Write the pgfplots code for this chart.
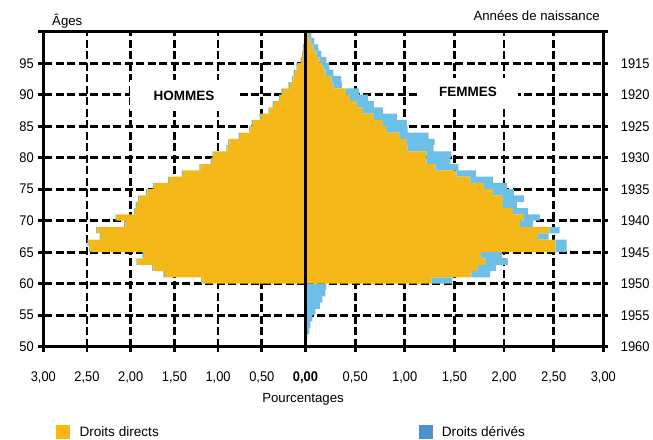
\documentclass[border=0pt]{standalone}
\usepackage{fontspec}
\setmainfont{Liberation Sans}
\newfontfamily\narrow{Liberation Sans}[FakeStretch=0.92]
\usepackage{pgfplots}
\usepackage{pgfplotstable}
\pgfplotsset{compat=1.18}

\definecolor{direct}{HTML}{F5B819}
\definecolor{derive}{HTML}{6CBFE6}
\definecolor{legdirect}{HTML}{FDB515}
\definecolor{legderive}{HTML}{4F91CE}

% age (lower bound of the one-year band), droits directs, droits derives
\pgfplotstableread{
age direct derive
50 0     0
51 0     0
52 0     0
53 0     0
54 0     0
55 0     0
56 0     0
57 0     0
58 0     0
59 0     0
60 1.18  0.015
61 1.61  0.015
62 1.74  0.015
63 1.92  0.015
64 1.85  0.015
65 2.46  0.015
66 2.48  0.015
67 2.34  0.015
68 2.38  0.015
69 2.06  0.015
70 2.16  0.015
71 1.95  0.015
72 1.93  0.015
73 1.90  0.015
74 1.81  0.015
75 1.73  0.015
76 1.56  0.015
77 1.40  0.015
78 1.20  0.015
79 1.07  0.015
80 1.05  0.015
81 0.89  0.015
82 0.87  0.015
83 0.75  0.015
84 0.63  0.015
85 0.60  0.015
86 0.51  0.015
87 0.41  0.015
88 0.36  0.015
89 0.29  0.015
90 0.26  0.015
91 0.18  0.015
92 0.14  0.015
93 0.12  0.015
94 0.09  0.015
95 0.04  0.015
96 0.03  0.01
97 0.02  0.01
98 0.015 0.005
99 0.01  0.005
}\hommes

\pgfplotstableread{
age direct derive
50 0     0.01
51 0     0.02
52 0     0.04
53 0     0.05
54 0     0.07
55 0     0.10
56 0     0.145
57 0     0.17
58 0     0.20
59 0     0.21
60 1.27  0.21
61 1.67  0.19
62 1.74  0.18
63 1.82  0.22
64 1.77  0.21
65 2.52  0.11
66 2.52  0.11
67 2.34  0.11
68 2.46  0.10
69 2.16  0.13
70 2.20  0.16
71 2.09  0.15
72 1.99  0.14
73 1.99  0.21
74 1.89  0.21
75 1.80  0.23
76 1.66  0.23
77 1.52  0.20
78 1.31  0.23
79 1.22  0.24
80 1.22  0.25
81 1.03  0.26
82 1.02  0.28
83 0.95  0.29
84 0.82  0.21
85 0.78  0.24
86 0.69  0.23
87 0.58  0.20
88 0.52  0.17
89 0.45  0.18
90 0.41  0.13
91 0.28  0.09
92 0.26  0.10
93 0.20  0.08
94 0.18  0.06
95 0.14  0.07
96 0.11  0.05
97 0.08  0.05
98 0.05  0.04
99 0.03  0.03
}\femmes

\pgfplotsset{pyr/.style={
  scale only axis, height=315pt,
  xmin=0, xmax=3, ymin=50, ymax=100,
  xbar stacked, bar width=1,
  axis line style={draw=none},
  tick align=outside, major tick length=5pt,
  tick style={black, line width=2.8pt},
  xtick pos=bottom,
  xtick={0.5,1,1.5,2,2.5},
  extra x ticks={0,3},
  extra x tick style={grid=none},
  ytick={50,55,...,100},
  grid=major,
  major grid style={black, line width=2.8pt, dash pattern=on 8pt off 3.5pt},
  ticklabel style={font=\narrow\fontsize{14}{16}\selectfont},
  xticklabel style={yshift=-16pt},
}}

\begin{document}
\begin{tikzpicture}[x=1pt, y=1pt]
\useasboundingbox (0,0) rectangle (653,439);

\begin{axis}[pyr, name=L, width=262.2pt, x dir=reverse,
  at={(43.3pt,92.3pt)}, anchor=south west,
  ytick pos=left,
  xticklabels={{0,50},{1,00},{1,50},{2,00},{2,50}},
  extra x tick labels={{\textbf{0,00}},{3,00}},
  yticklabels={50,55,60,65,70,75,80,85,90,95,{}},
  yticklabel style={xshift=-1pt},
]
\addplot[fill=direct, draw=none] table[x=direct, y expr=\thisrow{age}+0.5] {\hommes};
\addplot[fill=derive, draw=none] table[x=derive, y expr=\thisrow{age}+0.5] {\hommes};
\end{axis}

\begin{axis}[pyr, name=R, width=297.8pt,
  at={(305.5pt,92.3pt)}, anchor=south west,
  ytick pos=right,
  xticklabels={{0,50},{1,00},{1,50},{2,00},{2,50}},
  extra x tick labels={{},{3,00}},
  yticklabels={1960,1955,1950,1945,1940,1935,1930,1925,1920,1915,{}},
  yticklabel style={xshift=9pt},
]
\addplot[fill=direct, draw=none] table[x=direct, y expr=\thisrow{age}+0.5] {\femmes};
\addplot[fill=derive, draw=none] table[x=derive, y expr=\thisrow{age}+0.5] {\femmes};
\end{axis}

% frame and centre line
\draw[line width=3pt] (L.south west) rectangle (R.north east);
\draw[line width=2.2pt] (L.south east) -- (L.north east);

% side labels
\node[fill=white, minimum width=108pt, minimum height=31pt, inner sep=0pt,
  font=\bfseries\fontsize{13.5}{15}\selectfont] at (184,343.5) {HOMMES};
\node[fill=white, minimum width=100pt, minimum height=28pt, inner sep=0pt,
  font=\bfseries\fontsize{13.5}{15}\selectfont] at (468,347) {FEMMES};

% titles
\node[anchor=base west, inner sep=0pt, font=\fontsize{13.2}{15}\selectfont] at (52,413.5) {Âges};
\node[anchor=base east, inner sep=0pt, font=\fontsize{13.2}{15}\selectfont] at (600,418.3) {Années de naissance};
\node[anchor=base, inner sep=0pt, font=\fontsize{13.2}{15}\selectfont] at (303,37) {Pourcentages};

% legend
\fill[legdirect] (56,0) rectangle (70,14);
\node[anchor=base west, inner sep=0pt, font=\fontsize{13.6}{15}\selectfont] at (79.3,2.5) {Droits directs};
\fill[legderive] (419,0) rectangle (433.3,14);
\node[anchor=base west, inner sep=0pt, font=\fontsize{13.6}{15}\selectfont] at (441.7,2.5) {Droits dérivés};
\end{tikzpicture}
\end{document}
